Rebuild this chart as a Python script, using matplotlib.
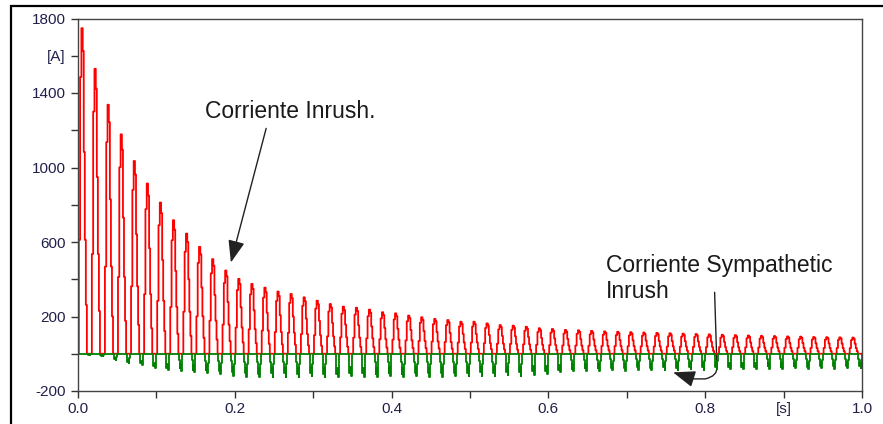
import numpy as np
import matplotlib.pyplot as plt
from matplotlib.patches import Rectangle, FancyArrowPatch
from matplotlib.path import Path

# ---- datos (un valor por ciclo, 60 Hz, 0..1 s) ----
FREQ = 60
red_peaks = [1748, 1530, 1337, 1178, 1035, 914, 812, 717, 645, 574,
             508, 447, 402, 375, 355, 334, 321, 303, 285, 267,
             253, 247, 237, 223, 217, 205, 196, 187, 181, 172,
             172, 163, 154, 151, 145, 137, 133, 128, 126, 123,
             120, 118, 116, 114, 112, 110, 108, 106, 104, 102,
             100, 98, 96, 95, 93, 92, 90, 89, 88, 87]
green_troughs = [5, 12, 34, 52, 61, 79, 88, 91, 100, 105,
                 111, 118, 124, 127, 124, 124, 126, 122, 125, 127,
                 121, 124, 126, 122, 125, 121, 124, 123, 120, 122,
                 118, 120, 116, 117, 112, 108, 100, 95, 92, 90,
                 88, 90, 86, 88, 85, 87, 84, 86, 82, 84,
                 81, 83, 80, 82, 79, 81, 78, 80, 78, 79]

# forma de un pulso (fase dentro del ciclo, valor normalizado)
red_phase = [0.00, 0.06, 0.16, 0.26, 0.36, 0.44, 0.52, 0.60, 0.68]
red_shape = [0.00, 0.35, 0.85, 1.00, 0.93, 0.62, 0.35, 0.15, 0.00]
green_phase = [0.68, 0.72, 0.77, 0.83, 0.89, 0.94, 0.99]
green_shape = [0.00, -0.35, -0.85, -0.60, -1.00, -0.45, 0.00]

yticks = [1800, 1600, 1400, 1200, 1000, 800, 600, 400, 200, 0, -200]
ylabels = ["1800", "[A]", "1400", "", "1000", "", "600", "", "200", "", "-200"]
xticks = [0.0, 0.1, 0.2, 0.3, 0.4, 0.5, 0.6, 0.7, 0.8, 0.9, 1.0]
xlabels = ["0.0", "", "0.2", "", "0.4", "", "0.6", "", "0.8", "[s]", "1.0"]


def build_wave(amps, phase, shape):
    t, y = [0.0], [0.0]
    for k, a in enumerate(amps):
        for p, s in zip(phase, shape):
            t.append((k + p) / FREQ)
            y.append(a * s)
    t.append(1.0)
    y.append(0.0)
    return np.array(t), np.array(y)


t_red, i_red = build_wave(red_peaks, red_phase, red_shape)
t_grn, i_grn = build_wave(green_troughs, green_phase, green_shape)

plt.rcParams['font.family'] = ['Liberation Sans', 'DejaVu Sans']

fig = plt.figure(figsize=(8.83, 4.24), dpi=100)
ax = fig.add_axes([78 / 883, 1 - 391 / 424, 784 / 883, 372.5 / 424])

ax.plot(t_red, i_red, color='#ff0000', lw=1.3, drawstyle='steps-post')
ax.plot(t_grn, i_grn, color='#008000', lw=1.3, drawstyle='steps-post')

ax.set_xlim(0, 1.0)
ax.set_ylim(-200, 1800)
ax.set_xticks(xticks)
ax.set_xticklabels(xlabels)
ax.set_yticks(yticks)
ax.set_yticklabels(ylabels)
ax.tick_params(direction='out', length=5, width=1, color='#333333',
               labelsize=11, labelcolor='#20204a')
ax.tick_params(axis='y', pad=4)
ax.tick_params(axis='x', pad=3)
for sp in ax.spines.values():
    sp.set_color('#444444')
    sp.set_linewidth(1)

# textos y flechas
ax.text(0.162, 1268, "Corriente Inrush.", fontsize=16.5,
        color='#1a1a1a', va='baseline', ha='left')
ax.text(0.673, 538, "Corriente Sympathetic\nInrush",
        fontsize=16.5, color='#1a1a1a', va='top', ha='left', linespacing=1.2)

arr1 = FancyArrowPatch((0.240, 1210), (0.195, 490),
                       arrowstyle='-|>,head_length=0.8,head_width=0.3',
                       mutation_scale=17, lw=1, color='#222222',
                       shrinkA=0, shrinkB=0)
ax.add_patch(arr1)

verts = [(0.812, 330), (0.815, -70), (0.816, -120), (0.800, -135),
         (0.785, -135), (0.759, -100)]
codes = [Path.MOVETO, Path.LINETO, Path.CURVE3, Path.CURVE3,
         Path.LINETO, Path.LINETO]
arr2 = FancyArrowPatch(path=Path(verts, codes),
                       arrowstyle='-|>,head_length=0.8,head_width=0.3',
                       mutation_scale=17, lw=1, color='#222222',
                       transform=ax.transData)
ax.add_patch(arr2)

# marco exterior de la captura
fig.add_artist(Rectangle((11 / 883, -0.1), 1.2, 1.1 - 6 / 424,
                         transform=fig.transFigure, fill=False,
                         lw=1.6, edgecolor='black', clip_on=False))

fig.savefig("out.png", dpi=100)
